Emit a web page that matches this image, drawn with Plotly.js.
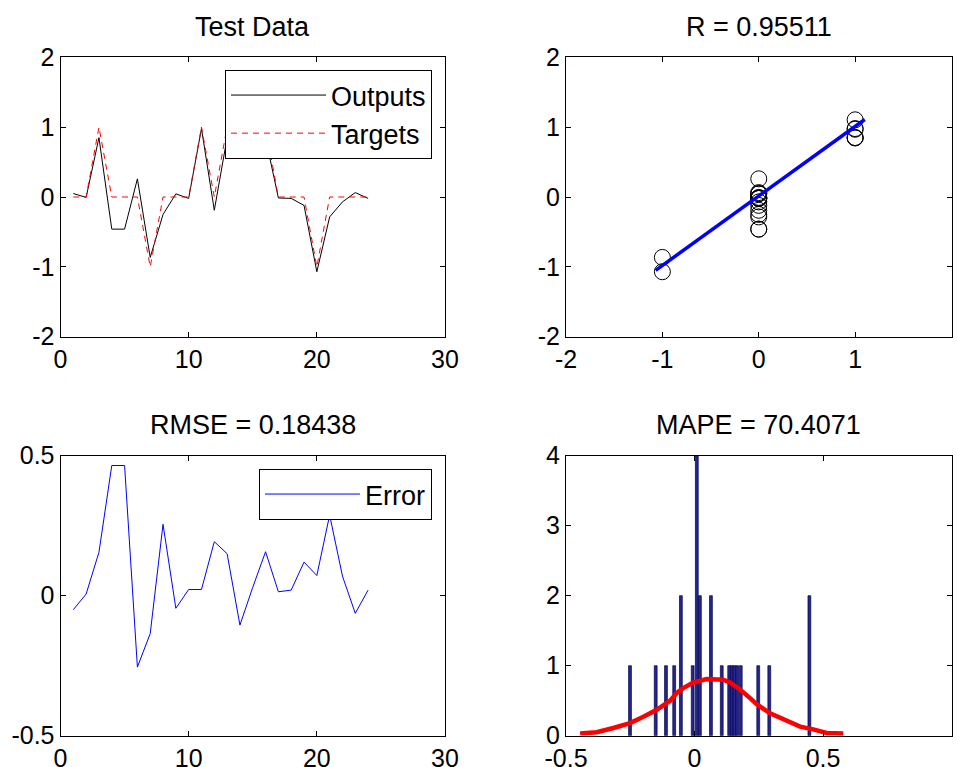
<!DOCTYPE html>
<html><head><meta charset="utf-8">
<script src="https://cdn.plot.ly/plotly-3.0.1.min.js"></script>
<style>html,body{margin:0;padding:0;background:#fff;}#chart{width:957px;height:767px;}</style>
</head><body><div id="chart"></div>
<script>
// ---------- data ----------
const sampleIndex = [1,2,3,4,5,6,7,8,9,10,11,12,13,14,15,16,17,18,19,20,21,22,23,24];
const targets = [0,0,1,0,0,0,-1,0,0,0,1,0,1,1,1,1,0,0,0,-1,0,0,0,0];
const outputs = [0.05,-0.006,0.85,-0.46,-0.46,0.26,-0.865,-0.25,0.045,-0.02,0.98,-0.19,0.85,1.105,0.97,0.845,-0.014,-0.02,-0.12,-1.07,-0.285,-0.07,0.063,-0.02];
const errors  = [-0.05,0.006,0.155,0.465,0.465,-0.255,-0.135,0.255,-0.045,0.022,0.022,0.193,0.15,-0.105,0.03,0.157,0.014,0.02,0.12,0.072,0.288,0.07,-0.063,0.02];
const fitLineX = [-1.07, 1.10];
const fitLineY = [-1.05, 1.11];
const histCenters = [-0.251,-0.151,-0.111,-0.079,-0.053,-0.007,0.009,0.021,0.064,0.106,0.135,0.145,0.155,0.166,0.180,0.248,0.291,0.447];
const histCounts  = [1,1,1,1,2,1,4,2,2,1,1,1,1,1,1,1,1,2];
const normCurveX = [-0.445,-0.381,-0.316,-0.251,-0.199,-0.147,-0.095,-0.069,-0.044,-0.005,0.047,0.086,0.112,0.138,0.177,0.215,0.242,0.294,0.346,0.411,0.462,0.514,0.579];
const normCurveY = [0.03,0.05,0.11,0.18,0.27,0.37,0.50,0.61,0.68,0.76,0.81,0.81,0.80,0.76,0.66,0.54,0.45,0.32,0.23,0.13,0.09,0.04,0.03];
const panelTitles = ['Test Data','R = 0.95511','RMSE = 0.18438','MAPE = 70.4071'];
const seriesNames = ['Outputs','Targets','Error'];
const ticksIndex = [0,10,20,30];
const ticksIndexText = ['0','10','20','30'];
const ticksUnit = [-2,-1,0,1,2];
const ticksUnitText = ['-2','-1','0','1','2'];
const ticksErr = [-0.5,0,0.5];
const ticksErrText = ['-0.5','0','0.5'];
const ticksHistX = [-0.5,0,0.5,1];
const ticksHistXText = ['-0.5','0','0.5','1'];
const ticksHistY = [0,1,2,3,4];
const ticksHistYText = ['0','1','2','3','4'];

// ---------- styling / layout ----------
const W = 957, H = 767;
const FONT = 'Liberation Sans, Arial, Helvetica, sans-serif';
const colL = [60.5/W, 445/W], colR = [566/W, 951.5/W];
const rowT = [1-336.7/H, 1-57.3/H], rowB = [1-735.7/H, 1-455.7/H];

function ax(domain, anchor, range, tv, tt, extra) {
  return Object.assign({
    domain: domain, anchor: anchor, range: range, tickvals: tv, ticktext: tt,
    showline: true, linecolor: '#000', linewidth: 1, mirror: 'ticks',
    ticks: 'inside', ticklen: 5, tickcolor: '#000', tickwidth: 1,
    showgrid: false, zeroline: false, fixedrange: true,
    tickfont: {family: FONT, size: 25, color: '#000'}
  }, extra || {});
}

const traces = [
  {x: sampleIndex, y: outputs, type: 'scatter', mode: 'lines', name: seriesNames[0],
   line: {color: '#000', width: 1}, xaxis: 'x', yaxis: 'y', legend: 'legend'},
  {x: sampleIndex, y: targets, type: 'scatter', mode: 'lines', name: seriesNames[1],
   line: {color: '#ff0000', width: 1, dash: '6px,5px'}, xaxis: 'x', yaxis: 'y', legend: 'legend'},
  {x: targets, y: outputs, type: 'scatter', mode: 'markers', showlegend: false,
   marker: {symbol: 'circle-open', size: 16, color: '#000', line: {width: 1, color: '#000'}},
   xaxis: 'x2', yaxis: 'y2'},
  {x: fitLineX, y: fitLineY, type: 'scatter', mode: 'lines', showlegend: false,
   line: {color: '#0000ff', width: 3.5}, xaxis: 'x2', yaxis: 'y2'},
  {x: sampleIndex, y: errors, type: 'scatter', mode: 'lines', name: seriesNames[2],
   line: {color: '#0000ff', width: 1}, xaxis: 'x3', yaxis: 'y3', legend: 'legend2'},
  {x: histCenters, y: histCounts, type: 'bar', width: 0.011, showlegend: false,
   marker: {color: '#26268c', line: {color: '#000050', width: 0.7}},
   xaxis: 'x4', yaxis: 'y4'},
  {x: normCurveX, y: normCurveY, type: 'scatter', mode: 'lines', showlegend: false,
   line: {color: '#ff0000', width: 4.5}, xaxis: 'x4', yaxis: 'y4'}
];

const titleY = [1-27/H, 1-27/H, 1-425/H, 1-425/H];
const titleX = [(colL[0]+colL[1])/2, (colR[0]+colR[1])/2, (colL[0]+colL[1])/2, (colR[0]+colR[1])/2];
const annotations = panelTitles.map((t, i) => ({
  text: t, xref: 'paper', yref: 'paper', x: titleX[i], y: titleY[i],
  xanchor: 'center', yanchor: 'middle', showarrow: false,
  font: {family: FONT, size: 27, color: '#000'}
}));

const legendBase = {
  xanchor: 'right', yanchor: 'top', bgcolor: '#fff', bordercolor: '#000', borderwidth: 1,
  font: {family: FONT, size: 27, color: '#000'}, itemwidth: 95, tracegroupgap: 0
};

const layout = {
  width: W, height: H, margin: {l: 0, r: 0, t: 0, b: 0},
  paper_bgcolor: '#fff', plot_bgcolor: '#fff',
  font: {family: FONT, size: 25, color: '#000'},
  bargap: 0,
  xaxis: ax(colL, 'y', [0, 30], ticksIndex, ticksIndexText),
  yaxis: ax(rowT, 'x', [-2, 2], ticksUnit, ticksUnitText),
  xaxis2: ax(colR, 'y2', [-2, 2], ticksUnit, ticksUnitText),
  yaxis2: ax(rowT, 'x2', [-2, 2], ticksUnit, ticksUnitText),
  xaxis3: ax(colL, 'y3', [0, 30], ticksIndex, ticksIndexText),
  yaxis3: ax(rowB, 'x3', [-0.5, 0.5], ticksErr, ticksErrText),
  xaxis4: ax(colR, 'y4', [-0.5, 1], ticksHistX, ticksHistXText),
  yaxis4: ax(rowB, 'x4', [0, 4], ticksHistY, ticksHistYText),
  legend: Object.assign({x: 432/W, y: 1-70/H}, legendBase),
  legend2: Object.assign({x: 432/W, y: 1-469/H}, legendBase),
  annotations: annotations,
  showlegend: true
};

Plotly.newPlot('chart', traces, layout, {staticPlot: true, displayModeBar: false});
</script>
</body></html>
